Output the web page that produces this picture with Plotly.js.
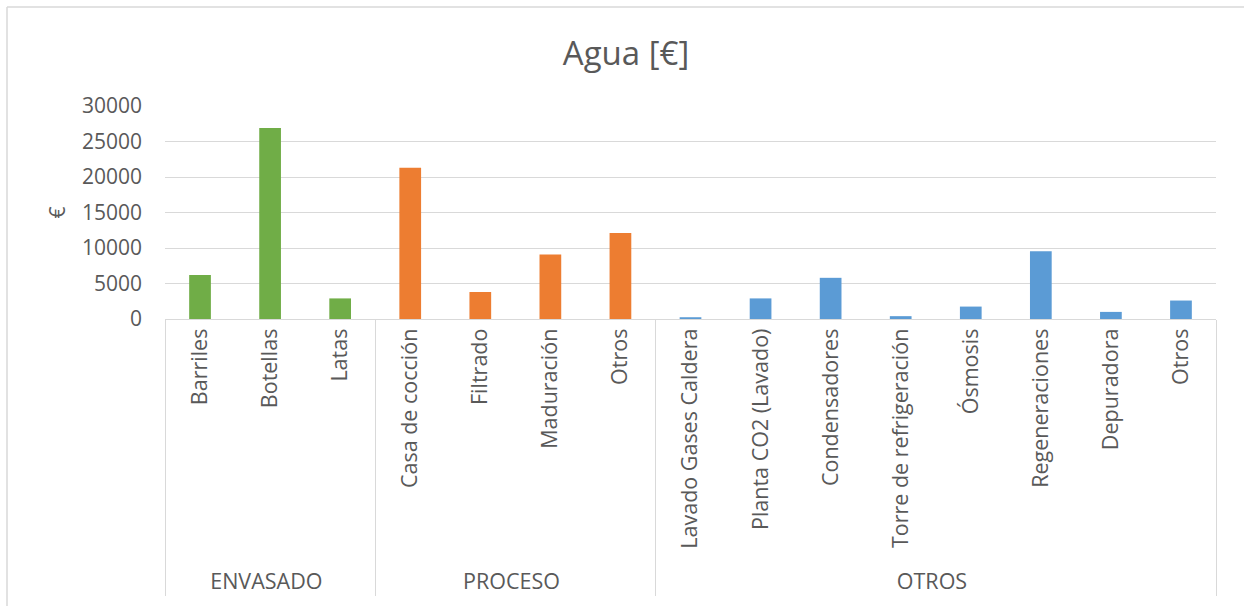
<!DOCTYPE html>
<html>
<head>
<meta charset="utf-8">
<script src="https://cdn.plot.ly/plotly-3.0.1.min.js"></script>
<style>
html,body{margin:0;padding:0;background:#fff;}
#chart{width:1244px;height:606px;}
</style>
</head>
<body>
<div id="chart"></div>
<script>
const groupEnvasado = "ENVASADO";
const groupProceso = "PROCESO";
const groupOtros = "OTROS";

const catsEnvasado = ["Barriles", "Botellas", "Latas"];
const valsEnvasado = [6200, 26900, 2900];

const catsProceso = ["Casa de cocción", "Filtrado", "Maduración", "Otros"];
const valsProceso = [21300, 3800, 9100, 12100];

const catsOtros = ["Lavado Gases Caldera", "Planta CO2 (Lavado)", "Condensadores", "Torre de refrigeración", "Ósmosis", "Regeneraciones", "Depuradora", "Otros"];
const valsOtros = [250, 2900, 5800, 400, 1750, 9550, 1000, 2600];

const yTicks = [0, 5000, 10000, 15000, 20000, 25000, 30000];

// zero-width suffix keeps repeated labels (e.g. "Otros") distinct per group
function mk(group, cats, vals, color, suffix) {
  return {
    type: "bar",
    x: [cats.map(() => group), cats.map(c => c + suffix)],
    y: vals,
    marker: {color: color},
    hoverinfo: "y",
    showlegend: false
  };
}

const data = [
  mk(groupEnvasado, catsEnvasado, valsEnvasado, "#70AD47", ""),
  mk(groupProceso, catsProceso, valsProceso, "#ED7D31", "\u200b"),
  mk(groupOtros, catsOtros, valsOtros, "#5B9BD5", "\u200b\u200b")
];

const fontFam = "Open Sans, sans-serif";
const txt = "#595959";

const layout = {
  width: 1244, height: 606,
  margin: {l: 165, r: 28, t: 106, b: 287},
  paper_bgcolor: "#fff", plot_bgcolor: "#fff",
  barmode: "group",
  bargap: 0.69,
  font: {family: fontFam, size: 21, color: txt},
  title: {text: "Agua [€]", font: {family: fontFam, size: 33, color: txt}, x: 626/1244, xanchor: "center", y: 1 - 53/606, yanchor: "middle"},
  xaxis: {
    type: "multicategory",
    tickangle: -90,
    showline: true, linecolor: "#d9d9d9", linewidth: 1,
    showgrid: false,
    ticks: "",
    showdividers: true, dividercolor: "#d9d9d9", dividerwidth: 1,
    tickfont: {family: fontFam, size: 21.5, color: txt}
  },
  yaxis: {
    range: [0, 30000],
    tickvals: yTicks,
    ticktext: yTicks.map(String),
    showgrid: true, gridcolor: "#d9d9d9", gridwidth: 1,
    zeroline: false, showline: false, ticks: "",
    ticklabelstandoff: 22,
    tickfont: {family: fontFam, size: 21, color: txt},
    title: {text: "€", font: {family: fontFam, size: 21, color: txt}, standoff: 10}
  },
  shapes: [
    {type: "line", xref: "paper", yref: "paper", x0: (7-165)/1051, x1: 1.2, y0: (319-7)/213, y1: (319-7)/213, line: {color: "#d9d9d9", width: 1.5}},
    {type: "line", xref: "paper", yref: "paper", x0: (7-165)/1051, x1: (7-165)/1051, y0: (319-7)/213, y1: -2, line: {color: "#d9d9d9", width: 1.5}}
  ]
};

Plotly.newPlot("chart", data, layout, {displayModeBar: false, staticPlot: true});
</script>
</body>
</html>
